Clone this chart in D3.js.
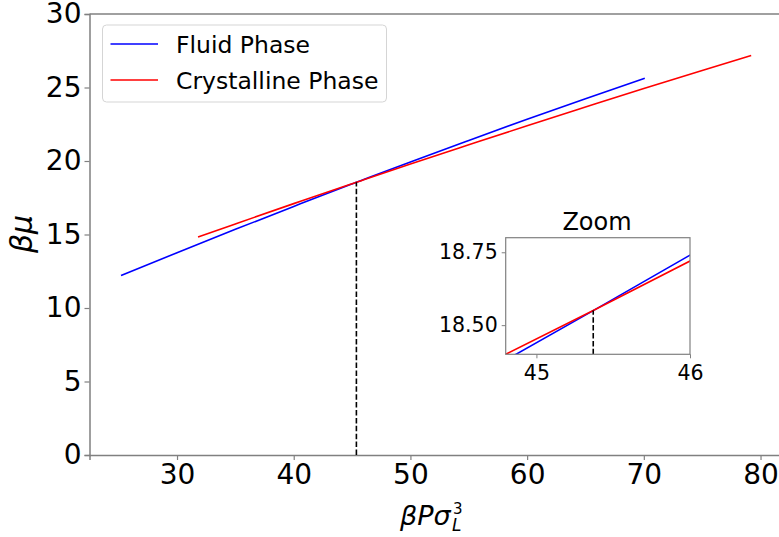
<!DOCTYPE html>
<html>
<head>
<meta charset="utf-8">
<script src="https://cdn.jsdelivr.net/npm/d3@7"></script>
<style>
  html, body { margin: 0; padding: 0; background: #fff; }
  svg { display: block; font-family: "DejaVu Sans", sans-serif; }
</style>
</head>
<body>
<svg id="chart" width="779" height="537"></svg>
<script>
// ---- Data ----
const fluidP  = [25.2, 30, 35, 40, 44.8, 45.37, 46, 50, 55, 60, 65, 70.08];
const fluidMu = [12.21, 13.76, 15.35, 16.91, 18.38, 18.55, 18.74, 19.94, 21.40, 22.84, 24.24, 25.63];
const crystP  = [31.8, 35, 40, 44.8, 45.37, 46, 50, 55, 60, 65, 70, 75, 79.2];
const crystMu = [14.83, 15.72, 17.10, 18.40, 18.55, 18.72, 19.79, 21.10, 22.40, 23.67, 24.93, 26.16, 27.18];
const coexP = 45.37, coexMu = 18.55;
const seriesNames = ["Fluid Phase", "Crystalline Phase"];
const seriesColors = ["#0000ff", "#ff0000"];
const xTicks = [30, 40, 50, 60, 70, 80];
const yTicks = [0, 5, 10, 15, 20, 25, 30];
const insetXTicks = [45, 46];
const insetYTicks = [18.50, 18.75];

const fluid = fluidP.map((p, i) => ({p, mu: fluidMu[i]}));
const cryst = crystP.map((p, i) => ({p, mu: crystMu[i]}));
const series = [fluid, cryst];

const svg = d3.select("#chart");
const axisColor = "#808080";

// ---- Main axes ----
const x = d3.scaleLinear().domain([22.5, 82.5]).range([89.5, 789.7]);
const y = d3.scaleLinear().domain([0, 30]).range([455, 14]);

const line = (xs, ys) => d3.line().x(d => xs(d.p)).y(d => ys(d.mu)).curve(d3.curveMonotoneX);

// top spine
svg.append("line").attr("x1", x.range()[0]).attr("x2", x.range()[1]).attr("y1", y(30)).attr("y2", y(30))
  .attr("stroke", axisColor).attr("stroke-width", 1.5);

const gx = svg.append("g").attr("transform", `translate(0,${y(0)})`)
  .call(d3.axisBottom(x).tickValues(xTicks).tickSize(5).tickPadding(4).tickFormat(d3.format("d")));
const gy = svg.append("g").attr("transform", `translate(${x(22.5)},0)`)
  .call(d3.axisLeft(y).tickValues(yTicks).tickSize(5).tickPadding(3).tickFormat(d3.format("d")));
[gx, gy].forEach(g => {
  g.select(".domain").attr("stroke", axisColor).attr("stroke-width", 1.5);
  g.selectAll(".tick line").attr("stroke", axisColor).attr("stroke-width", 1.2);
  g.selectAll(".tick text").attr("fill", "#000").style("font-size", "28px").style("font-family", "DejaVu Sans");
});

// series lines
series.forEach((s, i) => {
  svg.append("path").datum(s).attr("d", line(x, y)).attr("fill", "none")
    .attr("stroke", seriesColors[i]).attr("stroke-width", 1.6);
});

// coexistence dashed line
svg.append("line").attr("x1", x(coexP)).attr("x2", x(coexP)).attr("y1", y(0)).attr("y2", y(coexMu))
  .attr("stroke", "#000").attr("stroke-width", 1.6).attr("stroke-dasharray", "5.5,2.4");

// axis labels
svg.append("text").attr("x", 400).attr("y", 525)
  .style("font-size", "27px").style("font-style", "italic").text("βPσ");
svg.append("text").attr("x", 452).attr("y", 531)
  .style("font-size", "17px").style("font-style", "italic").text("L");
svg.append("text").attr("x", 453).attr("y", 514)
  .style("font-size", "15px").text("3");

svg.append("text").attr("transform", "translate(32,234) rotate(-90)").attr("text-anchor", "middle")
  .style("font-size", "30px").style("font-style", "italic").text("βμ");

// legend
const lg = svg.append("g");
lg.append("rect").attr("x", 102.5).attr("y", 25).attr("width", 284).attr("height", 77).attr("rx", 4)
  .attr("fill", "#fff").attr("fill-opacity", 0.8).attr("stroke", "#d5d5d5").attr("stroke-width", 1);
seriesNames.forEach((n, i) => {
  const yy = 44 + i * 36;
  lg.append("line").attr("x1", 110.5).attr("x2", 158).attr("y1", yy).attr("y2", yy)
    .attr("stroke", seriesColors[i]).attr("stroke-width", 1.6);
  lg.append("text").attr("x", 176).attr("y", yy + 9.3).style("font-size", "23.5px").text(n);
});

// ---- Inset ----
const ix = d3.scaleLinear().domain([44.8, 46]).range([505.7, 690]);
const iy = d3.scaleLinear().domain([18.4, 18.8]).range([354.3, 237.7]);

svg.append("defs").append("clipPath").attr("id", "insetClip").append("rect")
  .attr("x", 505.7).attr("y", 237.7).attr("width", 690 - 505.7).attr("height", 354.3 - 237.7);

svg.append("rect").attr("x", 505.7).attr("y", 237.7).attr("width", 690 - 505.7).attr("height", 354.3 - 237.7)
  .attr("fill", "#fff");

const ig = svg.append("g").attr("clip-path", "url(#insetClip)");
series.forEach((s, i) => {
  ig.append("path").datum(s).attr("d", d3.line().x(d => ix(d.p)).y(d => iy(d.mu))).attr("fill", "none")
    .attr("stroke", seriesColors[i]).attr("stroke-width", 1.6);
});
ig.append("line").attr("x1", ix(coexP)).attr("x2", ix(coexP)).attr("y1", iy(18.4)).attr("y2", iy(coexMu))
  .attr("stroke", "#000").attr("stroke-width", 1.6).attr("stroke-dasharray", "5.5,2.4");

svg.append("rect").attr("x", 505.7).attr("y", 237.7).attr("width", 690 - 505.7).attr("height", 354.3 - 237.7)
  .attr("fill", "none").attr("stroke", axisColor).attr("stroke-width", 1.2);

const igx = svg.append("g").attr("transform", `translate(0,354.3)`)
  .call(d3.axisBottom(ix).tickValues(insetXTicks).tickSize(4).tickPadding(7).tickFormat(d3.format("d")));
const igy = svg.append("g").attr("transform", `translate(505.7,0)`)
  .call(d3.axisLeft(iy).tickValues(insetYTicks).tickSize(4).tickPadding(4).tickFormat(d3.format(".2f")));
[igx, igy].forEach(g => {
  g.select(".domain").remove();
  g.selectAll(".tick line").attr("stroke", axisColor).attr("stroke-width", 1);
  g.selectAll(".tick text").attr("fill", "#000").style("font-size", "20.5px").style("font-family", "DejaVu Sans");
});

svg.append("text").attr("x", 597).attr("y", 230).attr("text-anchor", "middle")
  .style("font-size", "24px").text("Zoom");
</script>
</body>
</html>
